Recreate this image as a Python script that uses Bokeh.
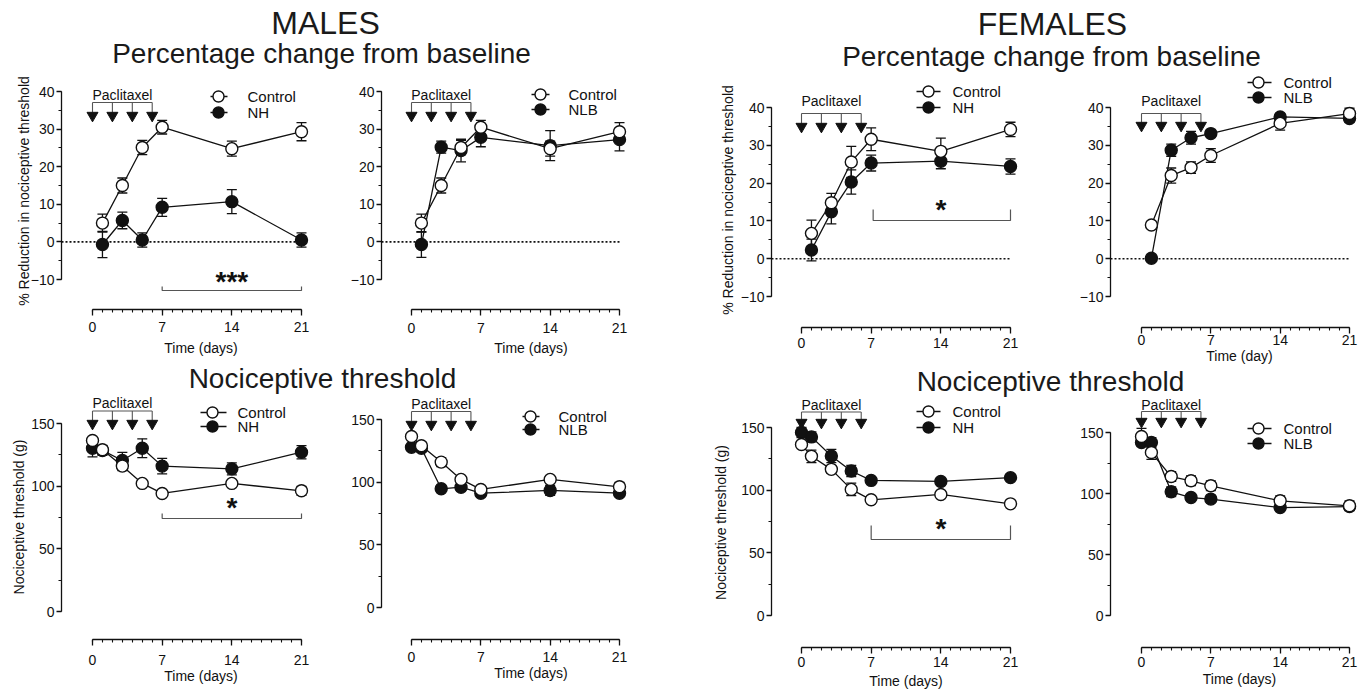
import numpy as np
from bokeh.plotting import figure
from bokeh.models import Range1d, FixedTicker
from bokeh.layouts import row, column
from bokeh.core.properties import value
from bokeh.embed import file_html
from bokeh.resources import INLINE

FONT = "Liberation Sans"
INK = "#111111"
GREY = "#555555"

# ---------------- data ----------------
days_pct = [1, 3, 5, 7, 14, 21]
days_thr = [0, 1, 3, 5, 7, 14, 21]
paclitaxel_days = [0, 2, 4, 6]
x_ticks = [0, 7, 14, 21]
x_minor = list(range(0, 22))
pct_ticks = [-10, 0, 10, 20, 30, 40]
pct_minor = [-10, -5, 0, 5, 10, 15, 20, 25, 30, 35, 40]
thr_ticks = [0, 50, 100, 150]
thr_minor = [0, 25, 50, 75, 100, 125, 150]

# MALES - % change from baseline
m_pct_ctrl = [5.0, 15.0, 25.1, 30.5, 24.8, 29.3]
m_pct_ctrl_sem = [2.4, 2.0, 1.9, 1.8, 2.0, 2.4]
m_pct_nh = [-0.7, 5.7, 0.5, 9.2, 10.7, 0.5]
m_pct_nh_sem = [3.5, 2.2, 1.9, 2.4, 3.2, 1.9]
m_pct_nlb = [-0.7, 25.2, 24.3, 27.8, 25.6, 27.2]
m_pct_nlb_sem = [3.4, 1.6, 3.0, 2.5, 4.0, 3.0]

# FEMALES - % change from baseline
f_pct_ctrl_a = [6.7, 14.8, 25.6, 31.6, 28.4, 34.2]
f_pct_ctrl_a_sem = [3.5, 2.5, 4.1, 3.0, 3.5, 1.9]
f_pct_nh = [2.3, 12.4, 20.3, 25.3, 25.8, 24.4]
f_pct_nh_sem = [2.9, 3.2, 3.2, 2.1, 2.0, 2.0]
f_pct_ctrl_b = [8.9, 22.0, 24.1, 27.3, 35.8, 38.4]
f_pct_ctrl_b_sem = [0.8, 2.0, 1.5, 1.8, 1.8, 1.4]
f_pct_nlb = [0.1, 28.7, 32.0, 33.1, 37.5, 37.1]
f_pct_nlb_sem = [0.5, 1.6, 1.7, 0.8, 0.9, 1.0]

# MALES - nociceptive threshold (g)
m_thr_ctrl = [136.4, 129.0, 116.0, 102.2, 94.2, 102.2, 96.3]
m_thr_ctrl_sem = [2.0, 3.0, 3.5, 1.5, 1.5, 1.5, 3.5]
m_thr_nh = [130.3, 128.5, 120.5, 130.3, 116.0, 113.8, 127.1]
m_thr_nh_sem = [7.0, 4.0, 6.5, 7.5, 6.2, 4.8, 5.3]
m_thr_nlb = [127.9, 127.1, 94.7, 96.0, 91.2, 93.4, 91.2]
m_thr_nlb_sem = [2.0, 3.0, 2.0, 3.0, 1.5, 4.0, 2.0]

# FEMALES - nociceptive threshold (g)
f_thr_ctrl_a = [136.4, 127.0, 116.6, 100.6, 92.3, 96.6, 89.1]
f_thr_ctrl_a_sem = [2.0, 5.0, 3.0, 5.0, 1.5, 1.5, 1.5]
f_thr_nh = [146.0, 142.5, 127.3, 115.3, 107.8, 107.0, 110.0]
f_thr_nh_sem = [4.0, 4.0, 5.3, 4.5, 1.5, 1.5, 1.5]
f_thr_ctrl_b = [146.7, 133.6, 113.9, 110.4, 106.3, 94.0, 89.9]
f_thr_ctrl_b_sem = [6.6, 5.7, 4.0, 4.0, 4.0, 4.0, 4.0]
f_thr_nlb = [141.8, 141.8, 101.4, 96.7, 95.4, 88.5, 89.3]
f_thr_nlb_sem = [3.0, 4.0, 4.0, 3.0, 1.5, 1.5, 2.0]

# ---------------- layout (page pixels) ----------------
GEOM = {
    "p1": dict(left=0, right=340, top=72, bottom=362, ax_x=61, ax_y=309, d0=92, d21=301, ya=40, ya_px=91, yb=-10, yb_px=279),
    "p2": dict(left=340, right=680, top=72, bottom=362, ax_x=381, ax_y=309, d0=411, d21=619, ya=40, ya_px=91, yb=-10, yb_px=279),
    "p3": dict(left=680, right=1040, top=72, bottom=366, ax_x=771, ax_y=327, d0=801, d21=1010, ya=40, ya_px=107, yb=-10, yb_px=296),
    "p4": dict(left=1040, right=1368, top=72, bottom=366, ax_x=1110, ax_y=327, d0=1141, d21=1349, ya=40, ya_px=107, yb=-10, yb_px=296),
    "p5": dict(left=0, right=340, top=394, bottom=692, ax_x=61, ax_y=639, d0=92, d21=301, ya=150, ya_px=423, yb=0, yb_px=611),
    "p6": dict(left=340, right=680, top=394, bottom=692, ax_x=381, ax_y=639, d0=411, d21=619, ya=150, ya_px=419, yb=0, yb_px=607),
    "p7": dict(left=680, right=1040, top=397, bottom=692, ax_x=771, ax_y=647, d0=801, d21=1010, ya=150, ya_px=427, yb=0, yb_px=615),
    "p8": dict(left=1040, right=1368, top=397, bottom=692, ax_x=1110, ax_y=647, d0=1141, d21=1349, ya=150, ya_px=432, yb=0, yb_px=615),
}

# axis text spacing per panel: (x tick label standoff, x axis label standoff, y axis label standoff)
AXSP = {
    "p1": (6, 5, -4), "p2": (7, 4, 0), "p3": (4, 0, 2), "p4": (1, 0, 0),
    "p5": (9, 0, 1), "p6": (6, 0, 0), "p7": (3, 3, 9), "p8": (3, 1, 0),
}

ANN = {
    "p1": dict(pac=(99, 102, 115), leg=dict(cx=218, lx0=210, lx1=227, tx=247, rows=(96, 112)),
               sig=dict(x0=7, y=290, tip=286, cy=277.5, stars="***")),
    "p2": dict(pac=(99, 102, 115), leg=dict(cx=540, lx0=531, lx1=549, tx=568, rows=(94, 109)), sig=None),
    "p3": dict(pac=(105, 113, 126), leg=dict(cx=928, lx0=916, lx1=940, tx=952, rows=(91, 107)),
               sig=dict(x0=7.2, y=220, tip=209, cy=205, stars="*")),
    "p4": dict(pac=(105, 113, 125), leg=dict(cx=1258, lx0=1247, lx1=1271, tx=1283, rows=(82, 97)), sig=None),
    "p5": dict(pac=(407, 410.5, 423), leg=dict(cx=212, lx0=200, lx1=226, tx=237, rows=(412, 426)),
               sig=dict(x0=7, y=518, tip=513, cy=503, stars="*")),
    "p6": dict(pac=(408, 411, 424), leg=dict(cx=530, lx0=522, lx1=539, tx=558, rows=(416, 429)), sig=None),
    "p7": dict(pac=(409, 411.5, 422), leg=dict(cx=928, lx0=916, lx1=940, tx=952, rows=(411, 427)),
               sig=dict(x0=7, y=539, tip=525, cy=524, stars="*")),
    "p8": dict(pac=(409, 411, 421), leg=dict(cx=1258, lx0=1247, lx1=1271, tx=1283, rows=(428, 443)), sig=None),
}

# text glyphs are drawn about 0.35 em below the requested alphabetic baseline
BASE_FIX = 0.35


def base(px, size):
    return px - BASE_FIX * size


def make_panel(key, pct, series, treat_name, xlabel, ylabel):
    g = GEOM[key]
    k = (g["d21"] - g["d0"]) / 21.0
    m = (g["yb_px"] - g["ya_px"]) / (g["yb"] - g["ya"])

    def X(px):
        return (px - g["d0"]) / k

    def Y(py):
        return g["ya"] + (py - g["ya_px"]) / m

    W = g["right"] - g["left"]
    H = g["bottom"] - g["top"]
    p = figure(width=W, height=H, output_backend="svg", toolbar_location=None,
               x_range=Range1d(X(g["ax_x"]), X(g["right"])),
               y_range=Range1d(Y(g["ax_y"]), Y(g["top"])),
               min_border_left=g["ax_x"] - g["left"], min_border_right=0,
               min_border_top=0, min_border_bottom=g["bottom"] - g["ax_y"],
               outline_line_color=None, background_fill_color="white",
               border_fill_color="white")
    p.xgrid.visible = False
    p.ygrid.visible = False
    xs, xls, yls = AXSP[key]

    xa = p.xaxis[0]
    xa.ticker = FixedTicker(ticks=x_ticks, minor_ticks=x_minor)
    xa.bounds = (0, 21)
    ya = p.yaxis[0]
    if pct:
        ya.ticker = FixedTicker(ticks=pct_ticks, minor_ticks=pct_minor)
        ya.bounds = (-10, 40)
    else:
        ya.ticker = FixedTicker(ticks=thr_ticks, minor_ticks=thr_minor)
        ya.bounds = (0, 150)
    for ax in (xa, ya):
        ax.axis_line_color = INK
        ax.axis_line_width = 1.3
        ax.major_tick_line_color = INK
        ax.minor_tick_line_color = INK
        ax.major_tick_line_width = 1.3
        ax.minor_tick_line_width = 1.1
        ax.major_tick_in = 0
        ax.minor_tick_in = 0
        ax.major_label_text_font = FONT
        ax.major_label_text_font_size = "14px"
        ax.major_label_text_color = INK
        ax.axis_label_text_font = FONT
        ax.axis_label_text_font_size = "14px"
        ax.axis_label_text_font_style = "normal"
        ax.axis_label_text_color = INK
    xa.major_tick_out = 6
    xa.minor_tick_out = 3
    xa.major_label_standoff = xs
    xa.axis_label_standoff = xls
    ya.major_tick_out = 5
    ya.minor_tick_out = 3
    ya.major_label_standoff = 2
    ya.axis_label_standoff = yls
    if xlabel:
        xa.axis_label = xlabel
    if ylabel:
        ya.axis_label = ylabel

    days = np.array(days_pct if pct else days_thr, dtype=float)
    cap = 5.0 / k

    if pct:
        p.line([X(g["ax_x"]), 21], [0, 0], line_color=INK, line_width=1.6, line_dash="2 2")

    # error bars
    for mean, sem, filled in series:
        mu = np.array(mean)
        e = np.array(sem)
        p.segment(days, mu - e, days, mu + e, line_color=INK, line_width=1.3)
        p.segment(days - cap, mu + e, days + cap, mu + e, line_color=INK, line_width=1.3)
        p.segment(days - cap, mu - e, days + cap, mu - e, line_color=INK, line_width=1.3)
    for mean, sem, filled in series:
        p.line(days, mean, line_color=INK, line_width=1.3)
    for mean, sem, filled in series:
        p.scatter(days, mean, size=12, line_color=INK, line_width=1.4,
                  fill_color=INK if filled else "white")

    a = ANN[key]
    # paclitaxel injections
    tb, br, ar = a["pac"]
    pd = np.array(paclitaxel_days, dtype=float)
    p.text([pd.mean()], [Y(base(tb, 14))], text=["Paclitaxel"], text_font=value(FONT),
           text_font_size="14px", text_align="center", text_baseline="alphabetic", text_color=INK)
    p.segment([pd.min()], [Y(br)], [pd.max()], [Y(br)], line_color=GREY, line_width=1.1)
    p.segment(pd, [Y(br)] * len(pd), pd, [Y(ar - 3)] * len(pd), line_color=GREY, line_width=1.1)
    p.scatter(pd, [Y(ar)] * len(pd), marker="inverted_triangle", size=11,
              fill_color=INK, line_color=INK)

    # legend
    L = a["leg"]
    labels = [("Control", False), (treat_name, True)]
    for (lab, filled), ry in zip(labels, L["rows"]):
        p.segment([X(L["lx0"])], [Y(ry)], [X(L["lx1"])], [Y(ry)], line_color=INK, line_width=1.3)
        p.scatter([X(L["cx"])], [Y(ry)], size=11, line_color=INK, line_width=1.4,
                  fill_color=INK if filled else "white")
        p.text([X(L["tx"])], [Y(base(ry + 5.4, 15))], text=[lab], text_font=value(FONT),
               text_font_size="15px", text_align="left", text_baseline="alphabetic", text_color=INK)

    # significance bracket
    s = a["sig"]
    if s:
        p.line([s["x0"], s["x0"], 21, 21], [Y(s["tip"]), Y(s["y"]), Y(s["y"]), Y(s["tip"])],
               line_color=GREY, line_width=1.2)
        p.text([14], [Y(s["cy"] + 3.7)], text=[s["stars"]], text_font=value(FONT),
               text_font_size="28px", text_font_style="bold", text_align="center",
               text_baseline="alphabetic", text_color=INK)
    return p


def strip(left, right, top, bottom, items):
    p = figure(width=right - left, height=bottom - top, output_backend="svg",
               toolbar_location=None, x_range=Range1d(left, right), y_range=Range1d(bottom, top),
               min_border_left=0, min_border_right=0, min_border_top=0, min_border_bottom=0,
               x_axis_type=None, y_axis_type=None, outline_line_color=None,
               background_fill_color="white", border_fill_color="white")
    for txt, cx, bl, size in items:
        p.text([cx], [base(bl, size)], text=[txt], text_font=value(FONT), text_font_size=f"{size}px",
               text_align="center", text_baseline="alphabetic", text_color="#1a1a1a")
    return p


p1 = make_panel("p1", True, [(m_pct_nh, m_pct_nh_sem, True), (m_pct_ctrl, m_pct_ctrl_sem, False)],
                "NH", "Time (days)", "% Reduction in nociceptive threshold")
p2 = make_panel("p2", True, [(m_pct_nlb, m_pct_nlb_sem, True), (m_pct_ctrl, m_pct_ctrl_sem, False)],
                "NLB", "Time (days)", None)
p3 = make_panel("p3", True, [(f_pct_nh, f_pct_nh_sem, True), (f_pct_ctrl_a, f_pct_ctrl_a_sem, False)],
                "NH", None, "% Reduction in nociceptive threshold")
p4 = make_panel("p4", True, [(f_pct_nlb, f_pct_nlb_sem, True), (f_pct_ctrl_b, f_pct_ctrl_b_sem, False)],
                "NLB", "Time (day)", None)
p5 = make_panel("p5", False, [(m_thr_nh, m_thr_nh_sem, True), (m_thr_ctrl, m_thr_ctrl_sem, False)],
                "NH", "Time (days)", "Nociceptive threshold (g)")
p6 = make_panel("p6", False, [(m_thr_nlb, m_thr_nlb_sem, True), (m_thr_ctrl, m_thr_ctrl_sem, False)],
                "NLB", "Time (days)", None)
p7 = make_panel("p7", False, [(f_thr_nh, f_thr_nh_sem, True), (f_thr_ctrl_a, f_thr_ctrl_a_sem, False)],
                "NH", "Time (days)", "Nociceptive threshold (g)")
p8 = make_panel("p8", False, [(f_thr_nlb, f_thr_nlb_sem, True), (f_thr_ctrl_b, f_thr_ctrl_b_sem, False)],
                "NLB", "Time (days)", None)

top_strip = strip(0, 1368, 0, 72, [
    ("MALES", 325, 33.5, 32),
    ("Percentage change from baseline", 321, 63, 28),
    ("FEMALES", 1052, 35, 32),
    ("Percentage change from baseline", 1051, 65.5, 28),
])
mid_m = strip(0, 680, 362, 394, [("Nociceptive threshold", 322, 388, 28)])
mid_f = strip(680, 1368, 366, 397, [("Nociceptive threshold", 1050, 391.2, 28)])

left_col = column(row(p1, p2), mid_m, row(p5, p6))
right_col = column(row(p3, p4), mid_f, row(p7, p8))
page = column(top_strip, row(left_col, right_col))

open("out.html", "w").write(file_html(page, INLINE))
